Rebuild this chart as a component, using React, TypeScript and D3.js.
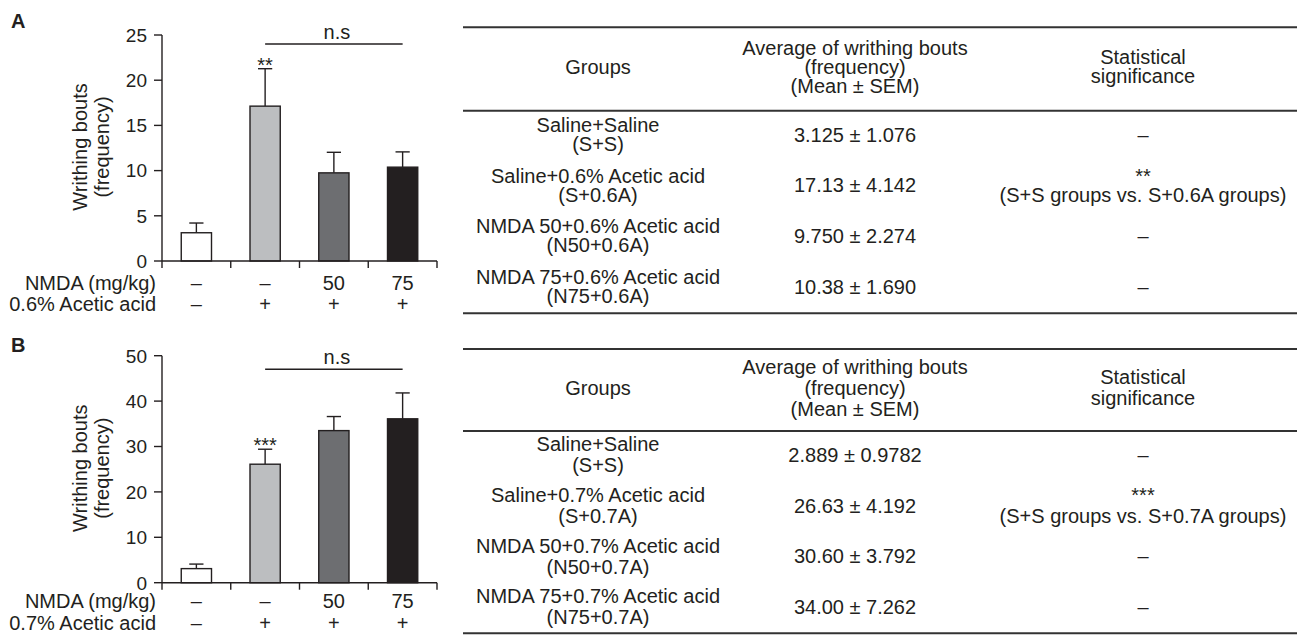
import * as d3 from 'd3';

const FONT = '"Liberation Sans", Arial, Helvetica, sans-serif';
const INK = '#231f20';
const FS = 20;
const CAP = FS * 0.716;

// ---- bar charts ----
const barFills = ['#ffffff', '#bcbec0', '#6d6e71', '#231f20'];
const nmdaRow = ['–', '–', '50', '75'];
const acidRow = ['–', '+', '+', '+'];

const meansA = [3.125, 17.13, 9.75, 10.38];
const semsA = [1.076, 4.142, 2.274, 1.69];
const starsA = ['', '**', '', ''];

const meansB = [3.1, 26.1, 33.5, 36.1];
const semsB = [1.0, 3.3, 3.1, 5.7];
const starsB = ['', '***', '', ''];

// ---- tables ----
const headGroups = ['Groups'];
const headAverage = ['Average of writhing bouts', '(frequency)', '(Mean ± SEM)'];
const headSignif = ['Statistical', 'significance'];

const groupsA = [
  ['Saline+Saline', '(S+S)'],
  ['Saline+0.6% Acetic acid', '(S+0.6A)'],
  ['NMDA 50+0.6% Acetic acid', '(N50+0.6A)'],
  ['NMDA 75+0.6% Acetic acid', '(N75+0.6A)'],
];
const averagesA = ['3.125 ± 1.076', '17.13 ± 4.142', '9.750 ± 2.274', '10.38 ± 1.690'];
const signifA = [['–'], ['**', '(S+S groups vs. S+0.6A groups)'], ['–'], ['–']];

const groupsB = [
  ['Saline+Saline', '(S+S)'],
  ['Saline+0.7% Acetic acid', '(S+0.7A)'],
  ['NMDA 50+0.7% Acetic acid', '(N50+0.7A)'],
  ['NMDA 75+0.7% Acetic acid', '(N75+0.7A)'],
];
const averagesB = ['2.889 ± 0.9782', '26.63 ± 4.192', '30.60 ± 3.792', '34.00 ± 7.262'];
const signifB = [['–'], ['***', '(S+S groups vs. S+0.7A groups)'], ['–'], ['–']];

const AX_L = 162;
const AX_R = 437;
const TABLE_L = 463;
const TABLE_R = 1297;
const colCenters = [598, 855, 1143];

function Lines({ x, cy, lines, lh }: { x: number; cy: number; lines: string[]; lh: number }) {
  const first = cy - (CAP + (lines.length - 1) * lh) / 2 + CAP;
  return (
    <text x={x} textAnchor="middle">
      {lines.map((l, i) => (
        <tspan key={i} x={x} y={first + i * lh}>{l}</tspan>
      ))}
    </text>
  );
}

interface PanelProps {
  letter: string;
  letterY: number;
  top: number;
  bottom: number;
  yMax: number;
  yStep: number;
  means: number[];
  sems: number[];
  stars: string[];
  nsLevel: number;
  acidLabel: string;
  rowY: [number, number];
}

function BarPanel(p: PanelProps) {
  const x = d3.scaleBand<number>().domain(d3.range(p.means.length)).range([AX_L, AX_R]);
  const y = d3.scaleLinear().domain([0, p.yMax]).range([p.bottom, p.top]);
  const barW = x.bandwidth() * 0.44;
  const capW = barW * 0.47;
  const cx = (i: number) => x(i)! + x.bandwidth() / 2;
  const ticks = d3.range(0, p.yMax + p.yStep / 2, p.yStep);
  const xTicks = [...x.domain().map(d => x(d)!), AX_R];
  const nsY = y(p.nsLevel);
  const midY = (p.top + p.bottom) / 2;

  return (
    <g>
      <text x={11} y={p.letterY} fontWeight="bold" fontSize={20}>{p.letter}</text>

      {/* y axis label */}
      <g transform={`translate(0,${midY - 1})rotate(-90)`}>
        <text x={0} y={87} textAnchor="middle">Writhing bouts</text>
        <text x={0} y={109} textAnchor="middle">(frequency)</text>
      </g>

      {/* bars */}
      {p.means.map((m, i) => (
        <g key={i}>
          <line x1={cx(i)} x2={cx(i)} y1={y(m)} y2={y(m + p.sems[i])} stroke={INK} strokeWidth={1.4} />
          <line x1={cx(i) - capW / 2} x2={cx(i) + capW / 2} y1={y(m + p.sems[i])} y2={y(m + p.sems[i])} stroke={INK} strokeWidth={1.4} />
          <rect x={cx(i) - barW / 2} y={y(m)} width={barW} height={y(0) - y(m)}
            fill={barFills[i]} stroke={INK} strokeWidth={1.4} />
          {p.stars[i] && (
            <text x={cx(i)} y={y(m + p.sems[i]) + 3} textAnchor="middle">{p.stars[i]}</text>
          )}
        </g>
      ))}

      {/* y axis */}
      <line x1={AX_L} x2={AX_L} y1={y(0)} y2={y(p.yMax)} stroke={INK} strokeWidth={1.4} />
      {ticks.map(t => (
        <g key={t}>
          <line x1={AX_L - 8} x2={AX_L} y1={y(t)} y2={y(t)} stroke={INK} strokeWidth={1.4} />
          <text x={AX_L - 15} y={y(t) + 19 * 0.716 / 2} textAnchor="end" fontSize={19}>{t}</text>
        </g>
      ))}

      {/* x axis */}
      <line x1={AX_L} x2={AX_R} y1={y(0)} y2={y(0)} stroke={INK} strokeWidth={1.4} />
      {xTicks.map((t, i) => (
        <line key={i} x1={t} x2={t} y1={y(0)} y2={y(0) + 7} stroke={INK} strokeWidth={1.4} />
      ))}

      {/* significance bracket */}
      <line x1={cx(1)} x2={cx(3)} y1={nsY} y2={nsY} stroke={INK} strokeWidth={1.4} />
      <text x={(cx(1) + cx(3)) / 2 + 3} y={nsY - 5.5} textAnchor="middle">n.s</text>

      {/* treatment rows */}
      <text x={156} y={p.rowY[0]} textAnchor="end">NMDA (mg/kg)</text>
      <text x={156} y={p.rowY[1]} textAnchor="end">{p.acidLabel}</text>
      {nmdaRow.map((v, i) => (
        <text key={'n' + i} x={cx(i)} y={p.rowY[0]} textAnchor="middle">{v}</text>
      ))}
      {acidRow.map((v, i) => (
        <text key={'a' + i} x={cx(i)} y={p.rowY[1]} textAnchor="middle">{v}</text>
      ))}
    </g>
  );
}

interface TableProps {
  top: number;
  headRule: number;
  bottom: number;
  lh: number;
  groups: string[][];
  averages: string[];
  signif: string[][];
}

function StatsTable(t: TableProps) {
  const rows = d3.scaleBand<number>().domain(d3.range(t.groups.length)).range([t.headRule, t.bottom]);
  const headCy = (t.top + t.headRule) / 2 - 2.5;
  const rowCy = (i: number) => rows(i)! + rows.bandwidth() / 2 - 1.5;
  const rule = (yy: number) => (
    <line x1={TABLE_L} x2={TABLE_R} y1={yy} y2={yy} stroke="#333" strokeWidth={2} />
  );
  return (
    <g>
      {rule(t.top)}
      {rule(t.headRule)}
      {rule(t.bottom)}
      <Lines x={colCenters[0]} cy={headCy} lines={headGroups} lh={t.lh} />
      <Lines x={colCenters[1]} cy={headCy} lines={headAverage} lh={t.lh} />
      <Lines x={colCenters[2]} cy={headCy} lines={headSignif} lh={t.lh} />
      {t.groups.map((g, i) => (
        <g key={i}>
          <Lines x={colCenters[0]} cy={rowCy(i)} lines={g} lh={t.lh} />
          <Lines x={colCenters[1]} cy={rowCy(i)} lines={[t.averages[i]]} lh={t.lh} />
          <Lines x={colCenters[2]} cy={rowCy(i)} lines={t.signif[i]} lh={t.lh} />
        </g>
      ))}
    </g>
  );
}

export default function App() {
  return (
    <svg width={1297} height={635} style={{ position: 'absolute', left: 0, top: 0, background: '#fff' }}
      fontFamily={FONT} fontSize={FS} fill={INK}>
      <rect width={1297} height={635} fill="#fff" />
      <BarPanel letter="A" letterY={28} top={35} bottom={261} yMax={25} yStep={5}
        means={meansA} sems={semsA} stars={starsA} nsLevel={24} acidLabel="0.6% Acetic acid" rowY={[290, 311]} />
      <BarPanel letter="B" letterY={351.5} top={355.7} bottom={582.7} yMax={50} yStep={10}
        means={meansB} sems={semsB} stars={starsB} nsLevel={47} acidLabel="0.7% Acetic acid" rowY={[608, 630]} />
      <StatsTable top={27.3} headRule={110.7} bottom={313.3} lh={19}
        groups={groupsA} averages={averagesA} signif={signifA} />
      <StatsTable top={349} headRule={431} bottom={633.3} lh={21}
        groups={groupsB} averages={averagesB} signif={signifB} />
    </svg>
  );
}
